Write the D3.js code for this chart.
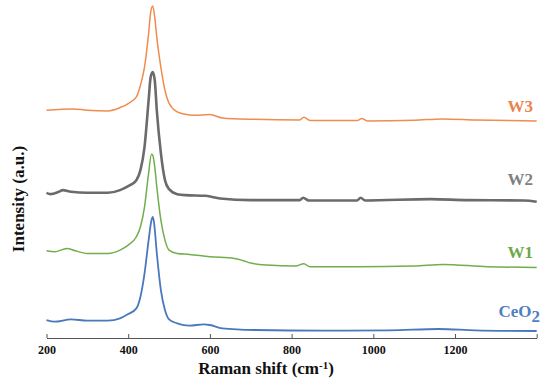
<!DOCTYPE html>
<meta charset="utf-8">
<style>
body { margin: 0; background: #fff; }
.axis path, .axis line { stroke: #555; }
.axis text { font-family: "Times New Roman", "Liberation Serif", "DejaVu Serif", serif; font-weight: bold; font-size: 12px; fill: #111; }
.lbl { font-family: "Times New Roman", "Liberation Serif", "DejaVu Serif", serif; font-weight: bold; }
</style>
<svg width="550" height="383"></svg>
<script src="https://d3js.org/d3.v7.min.js"></script>
<script>
// Raman spectra, intensities already offset for stacking (a.u.)
var shiftCeO2 = [200,220,260,300,350,380,400,420,430,440,450,457,460,463,470,480,490,500,520,550,585,600,630,710,880,1040,1160,1250,1400];
var ceo2      = [51,46,53,49,49,56,69,86,121,191,291,351,361,346,252,141,81,53,41,34,38,36,26,21,19,20,24,20,18];

var shiftW1 = [200,220,250,270,300,350,380,400,420,430,440,450,457,460,465,470,480,490,500,520,550,600,660,680,700,740,810,830,845,960,1100,1170,1280,1400];
var w1      = [259,256,266,259,251,251,261,276,301,331,391,492,549,546,511,451,351,291,261,251,248,241,236,230,222,216,213,220,211,211,213,218,211,209];

var shiftW2 = [200,210,230,240,260,300,350,380,400,420,430,440,450,455,460,465,470,480,490,500,520,540,590,625,700,820,828,842,960,969,980,1140,1230,1370,1400];
var w2      = [433,429,436,441,436,433,433,441,453,471,501,571,711,781,796,771,681,552,471,444,429,426,424,416,411,411,418,410,410,418,410,414,411,410,406];

var shiftW3 = [200,265,300,350,380,400,420,430,440,450,455,460,465,470,480,490,500,520,540,560,600,630,700,820,830,845,960,972,985,1100,1170,1250,1400];
var w3      = [681,685,681,679,689,701,721,756,811,912,975,994,960,900,810,741,702,676,669,666,668,658,654,652,660,650,650,656,649,651,655,652,649];

var xTicks = [200,400,600,800,1000,1200,1400];

var series = [
    {name: "CeO2", x: shiftCeO2, y: ceo2, color: "#4a78bd", width: 1.8, label: "#4f7fc0"},
    {name: "W1",   x: shiftW1,   y: w1,   color: "#72ae4c", width: 1.5, label: "#6ea845"},
    {name: "W2",   x: shiftW2,   y: w2,   color: "#6b6b6b", width: 2.6, label: "#808080"},
    {name: "W3",   x: shiftW3,   y: w3,   color: "#ef8c50", width: 1.5, label: "#e8844c"}
];

var svg = d3.select("svg");

var xScale = d3.scaleLinear().domain([200, 1400]).range([46.5, 536.7]);
var yScale = d3.scaleLinear().domain([0, 1000]).range([337, 4]);

var xAxis = svg.append("g")
    .attr("class", "axis")
    .attr("transform", "translate(0,338)")
    .call(d3.axisBottom(xScale)
        .tickValues(xTicks)
        .tickSizeInner(-4)
        .tickSizeOuter(0)
        .tickPadding(7)
        .tickFormat(function(d) { return d == 1400 ? "" : d; }));
xAxis.attr("font-family", null);

var line = d3.line()
    .curve(d3.curveMonotoneX)
    .x(function(d) { return xScale(d[0]); })
    .y(function(d) { return yScale(d[1]); });

svg.selectAll(".spec")
    .data(series)
    .enter().append("path")
    .attr("class", "spec")
    .attr("fill", "none")
    .attr("stroke", function(d) { return d.color; })
    .attr("stroke-width", function(d) { return d.width; })
    .attr("stroke-linejoin", "round")
    .attr("d", function(d) { return line(d3.zip(d.x, d.y)); });

// labels on right
var labelPos = {CeO2: [540, 317], W1: [533, 258], W2: [533, 185], W3: [533, 112]};
series.forEach(function(s) {
    var t = svg.append("text")
        .attr("class", "lbl")
        .attr("x", labelPos[s.name][0])
        .attr("y", labelPos[s.name][1])
        .attr("text-anchor", "end")
        .style("font-size", "17px")
        .style("fill", s.label);
    if (s.name == "CeO2") {
        t.append("tspan").text("CeO");
        t.append("tspan").attr("dy", 5).text("2");
    } else {
        t.text(s.name);
    }
});

// axis titles
var xt = svg.append("text")
    .attr("class", "lbl")
    .attr("x", 266)
    .attr("y", 374)
    .attr("text-anchor", "middle")
    .style("font-size", "17px")
    .style("fill", "#111");
xt.append("tspan").text("Raman shift (cm");
xt.append("tspan").attr("dy", -5).style("font-size", "11px").text("-1");
xt.append("tspan").attr("dy", 5).text(")");

svg.append("text")
    .attr("class", "lbl")
    .attr("transform", "translate(24,199) rotate(-90)")
    .attr("text-anchor", "middle")
    .style("font-size", "17px")
    .style("fill", "#111")
    .text("Intensity (a.u.)");
</script>
